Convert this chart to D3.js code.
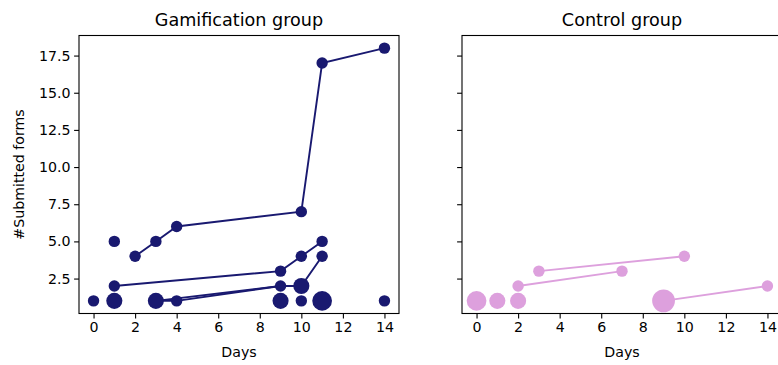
<!DOCTYPE html>
<html>
<head>
<meta charset="utf-8">
<script src="https://cdn.jsdelivr.net/npm/d3@7"></script>
<style>
  html, body { margin: 0; padding: 0; background: #fff; }
  svg { display: block; font-family: "DejaVu Sans", sans-serif; }
</style>
</head>
<body>
<svg id="chart" width="778" height="365"></svg>
<script>
// Participant trajectories: each is a list of [day, cumulative submitted forms]
const gamTrajectories = [
  [[2, 4], [3, 5], [4, 6], [10, 7], [11, 17], [14, 18]],
  [[1, 2], [9, 3], [10, 4], [11, 5]],
  [[3, 1], [4, 1], [9, 2], [10, 2], [11, 4]],
  [[3, 1], [9, 2]]
];
const ctrlTrajectories = [
  [[3, 3], [10, 4]],
  [[2, 2], [7, 3]],
  [[9, 1], [14, 2]]
];

// Markers: day, forms, number of participants sharing that point
const gamDays   = [0, 1, 1, 1, 2, 3, 4, 10, 11, 14, 3, 4, 9, 9, 9, 10, 10, 10, 11, 11, 11, 14];
const gamForms  = [1, 1, 2, 5, 4, 5, 6, 7, 17, 18, 1, 1, 1, 2, 3, 1, 2, 4, 1, 4, 5, 1];
const gamCounts = [1, 2, 1, 1, 1, 1, 1, 1, 1, 1, 2, 1, 2, 1, 1, 1, 2, 1, 3, 1, 1, 1];

const ctrlDays   = [0, 1, 2, 2, 7, 3, 10, 9, 14];
const ctrlForms  = [1, 1, 1, 2, 3, 3, 4, 1, 2];
const ctrlCounts = [3, 2, 2, 1, 1, 1, 1, 4, 1];

const xTicks = [0, 2, 4, 6, 8, 10, 12, 14];
const yTicks = [2.5, 5.0, 7.5, 10.0, 12.5, 15.0, 17.5];

const svg = d3.select("#chart");

const panelW = 320, plotTop = 35.5, plotBottom = 313.5;
const tickFont = 14.2, titleFont = 17.6;
const y = d3.scaleLinear().domain([0.15, 18.85]).range([plotBottom, plotTop]);
const r = d3.scaleSqrt().domain([0, 1]).range([0, 5.7]);

function panel(left, title, color, trajectories, days, forms, counts, showYLabels) {
  const x = d3.scaleLinear().domain([-0.7, 14.7]).range([left, left + panelW]);
  const g = svg.append("g");

  const line = d3.line().x(d => x(d[0])).y(d => y(d[1]));
  g.selectAll("path.traj").data(trajectories).join("path")
    .attr("class", "traj")
    .attr("d", line)
    .attr("fill", "none")
    .attr("stroke", color)
    .attr("stroke-width", 1.9);

  g.selectAll("circle").data(days.map((d, i) => ({d, f: forms[i], c: counts[i]}))).join("circle")
    .attr("cx", p => x(p.d))
    .attr("cy", p => y(p.f))
    .attr("r", p => r(p.c))
    .attr("fill", color);

  const xAxis = d3.axisBottom(x).tickValues(xTicks).tickSize(4.9).tickPadding(3.2);
  const gx = g.append("g").attr("transform", `translate(0,${plotBottom})`).call(xAxis);
  gx.select(".domain").remove();
  gx.selectAll("text").attr("font-size", tickFont).attr("fill", "#000").attr("font-family", "DejaVu Sans");
  gx.selectAll("line").attr("stroke", "#000").attr("stroke-width", 1.1);

  const yAxis = d3.axisLeft(y).tickValues(yTicks).tickSize(4.9).tickPadding(3.5)
    .tickFormat(showYLabels ? d3.format(".1f") : () => "");
  const gy = g.append("g").attr("transform", `translate(${left},0)`).call(yAxis);
  gy.select(".domain").remove();
  gy.selectAll("text").attr("font-size", tickFont).attr("fill", "#000").attr("font-family", "DejaVu Sans");
  gy.selectAll("line").attr("stroke", "#000").attr("stroke-width", 1.1);

  g.append("rect")
    .attr("x", left).attr("y", plotTop)
    .attr("width", panelW).attr("height", plotBottom - plotTop)
    .attr("fill", "none").attr("stroke", "#000").attr("stroke-width", 1.1);

  g.append("text")
    .attr("x", left + panelW / 2).attr("y", 25.5)
    .attr("text-anchor", "middle")
    .attr("font-size", titleFont)
    .text(title);

  g.append("text")
    .attr("x", left + panelW / 2).attr("y", 357)
    .attr("text-anchor", "middle")
    .attr("font-size", tickFont)
    .text("Days");
}

panel(79, "Gamification group", "#191970", gamTrajectories, gamDays, gamForms, gamCounts, true);
panel(462, "Control group", "#dda0dd", ctrlTrajectories, ctrlDays, ctrlForms, ctrlCounts, false);

svg.append("text")
  .attr("transform", `translate(24,${(plotTop + plotBottom) / 2}) rotate(-90)`)
  .attr("text-anchor", "middle")
  .attr("font-size", tickFont)
  .text("#Submitted forms");
</script>
</body>
</html>
